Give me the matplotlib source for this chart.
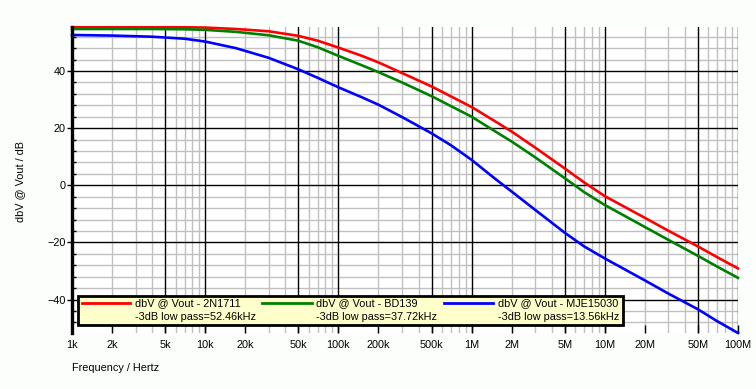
import numpy as np
import matplotlib
matplotlib.use("Agg")
import matplotlib.pyplot as plt
from matplotlib.patches import Rectangle
from matplotlib.lines import Line2D
from matplotlib.ticker import FixedLocator, NullFormatter

plt.rcParams['font.family'] = ['Liberation Sans', 'DejaVu Sans']
plt.rcParams['font.size'] = 7.8

# frequency in Hz, gain in dBV
freq = [1e3, 2e3, 4e3, 7e3, 1e4, 1.7e4, 3e4, 5e4, 7e4, 1e5, 1.5e5, 2e5, 3e5, 5e5, 7e5,
        1e6, 1.5e6, 2e6, 3e6, 5e6, 7e6, 1e7, 2e7, 3e7, 5e7, 7e7, 1e8]
gain_2n1711 = [55.3, 55.3, 55.3, 55.3, 55.2, 54.7, 53.9, 52.3, 50.6, 48.2, 45.3, 43.0, 39.3, 34.6, 31.1,
               27.4, 22.4, 18.8, 13.2, 5.9, 1.0, -3.8, -11.4, -15.9, -21.4, -25.2, -29.1]
gain_bd139 = [54.7, 54.7, 54.7, 54.6, 54.4, 53.7, 52.5, 50.6, 48.3, 45.3, 42.0, 39.6, 36.0, 31.2, 27.7,
              24.0, 18.9, 15.3, 9.8, 2.5, -2.4, -6.9, -14.6, -19.1, -24.7, -28.5, -32.4]
gain_mje15030 = [52.6, 52.4, 52.0, 51.3, 50.3, 48.0, 44.6, 40.6, 37.6, 34.3, 30.8, 28.2, 23.9, 18.2, 14.0,
                 8.9, 2.3, -2.2, -8.6, -16.6, -21.4, -25.6, -33.3, -37.9, -43.4, -47.6, -51.7]

series_names = ['dbV @ Vout - 2N1711', 'dbV @ Vout - BD139', 'dbV @ Vout - MJE15030']
cutoffs = ['-3dB low pass=52.46kHz', '-3dB low pass=37.72kHz', '-3dB low pass=13.56kHz']
colors = ['#ff0000', '#008000', '#0000ff']

xtick_vals = [1e3, 2e3, 5e3, 1e4, 2e4, 5e4, 1e5, 2e5, 5e5, 1e6, 2e6, 5e6, 1e7, 2e7, 5e7, 1e8]
xtick_labels = ['1k', '2k', '5k', '10k', '20k', '50k', '100k', '200k', '500k',
                '1M', '2M', '5M', '10M', '20M', '50M', '100M']

W, H = 756, 389
fig = plt.figure(figsize=(W / 100, H / 100), dpi=100, facecolor='#fcfefc')
ax = fig.add_axes([72 / W, 1 - 333 / H, (738 - 72) / W, (333 - 27) / H])
ax.set_facecolor('white')

ax.set_xscale('log')
ax.set_xlim(1e3, 1e8)
ax.set_ylim(-51.7, 55.4)

# grid: black at 1 and 5 of each decade, grey elsewhere
decades = [1e3, 1e4, 1e5, 1e6, 1e7]
for d in decades:
    for m in range(1, 10):
        f = d * m
        if m in (1, 5):
            ax.axvline(f, color='black', lw=1.0, zorder=1)
        else:
            ax.axvline(f, color='#c0c0c0', lw=1.0, zorder=0.5)
ax.axvline(1e8, color='black', lw=1.0, zorder=1)
for v in range(-48, 56, 4):
    if v % 20 == 0:
        ax.axhline(v, color='black', lw=1.0, zorder=1)
    else:
        ax.axhline(v, color='#c0c0c0', lw=1.0, zorder=0.5)

for g, c in zip([gain_2n1711, gain_bd139, gain_mje15030], colors):
    ax.plot(freq, g, color=c, lw=1.9, zorder=3, clip_on=False)

for s in ['top', 'right', 'bottom']:
    ax.spines[s].set_visible(False)
ax.spines['left'].set_linewidth(2.4)
ax.spines['left'].set_zorder(4)

ax.xaxis.set_major_locator(FixedLocator(xtick_vals))
ax.set_xticklabels(xtick_labels)
ax.xaxis.set_minor_formatter(NullFormatter())
ax.tick_params(axis='x', which='major', direction='in', length=5.5, width=1,
               color='black', pad=5)
ax.tick_params(axis='x', which='minor', length=0)

ax.set_yticks([-40, -20, 0, 20, 40])
ax.set_yticks(list(range(-48, 56, 4)), minor=True)
ax.tick_params(axis='y', which='major', direction='out', length=3.5, width=1, pad=1)
ax.tick_params(axis='y', which='minor', direction='in', length=3, width=1)

fig.text(20 / W, 1 - 181 / H, 'dbV @ Vout / dB', rotation=90,
         ha='center', va='center')
fig.text(72 / W, 1 - 368 / H, 'Frequency / Hertz', ha='left', va='center')

# legend box drawn in figure pixels
def px(x, y):
    return x / W, 1 - y / H

lx0, ly0 = px(78, 325)
lx1, ly1 = px(623, 296)
fig.patches.append(Rectangle((lx0, ly0), lx1 - lx0, ly1 - ly0, transform=fig.transFigure,
                             facecolor='#ffffcc', edgecolor='black', lw=2.0, zorder=10))
entries = [(82, 130, 135), (262, 312, 316), (444, 493, 498)]
for (a, b, t), name, cut, c in zip(entries, series_names, cutoffs, colors):
    x0, yy = px(a, 303)
    x1, _ = px(b, 303)
    fig.lines.append(Line2D([x0, x1], [yy, yy], transform=fig.transFigure,
                            color=c, lw=2.0, zorder=11))
    tx, ty = px(t, 303)
    fig.text(tx, ty, name, ha='left', va='center', zorder=12)
    tx, ty = px(t, 316.5)
    fig.text(tx, ty, cut, ha='left', va='center', zorder=12)

fig.savefig('out.png', dpi=100, facecolor=fig.get_facecolor())
